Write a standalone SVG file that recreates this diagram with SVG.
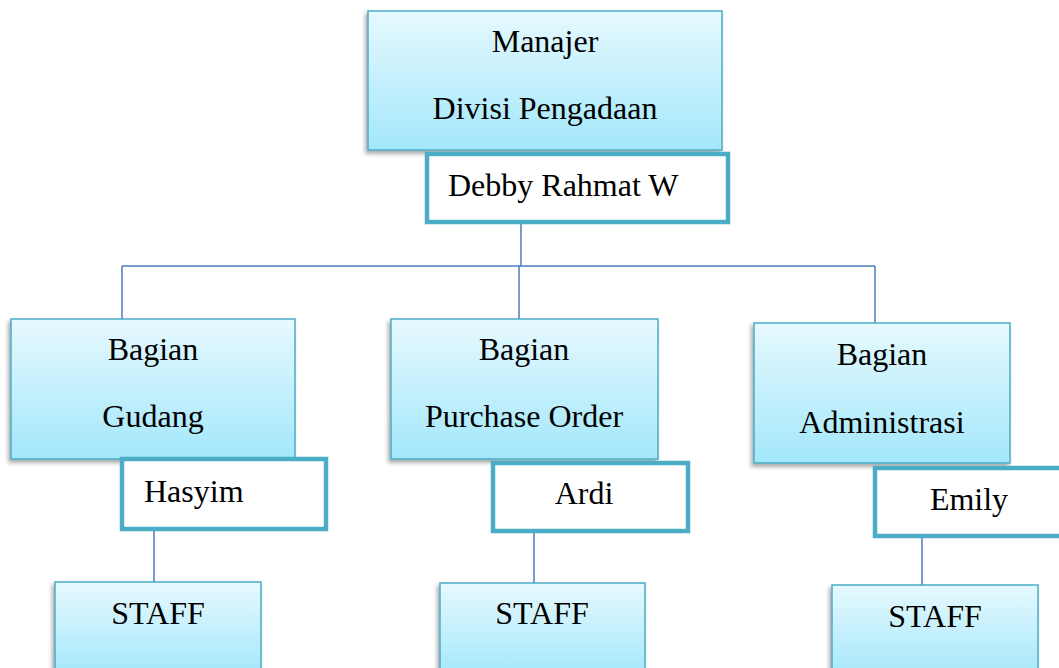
<svg xmlns="http://www.w3.org/2000/svg" width="1059" height="668" viewBox="0 0 1059 668">
<defs>
<linearGradient id="g" x1="0" y1="0" x2="0" y2="1">
<stop offset="0" stop-color="#E6F9FE"/>
<stop offset="1" stop-color="#A3E7FB"/>
</linearGradient>
<filter id="sh" x="-10%" y="-10%" width="120%" height="130%">
<feGaussianBlur in="SourceAlpha" stdDeviation="2"/>
<feOffset dx="-2" dy="3" result="b"/>
<feComponentTransfer><feFuncA type="linear" slope="0.35"/></feComponentTransfer>
<feMerge><feMergeNode/><feMergeNode in="SourceGraphic"/></feMerge>
</filter>
</defs>
<style>
.box{fill:url(#g);stroke:#4BACC6;stroke-width:1.5;filter:url(#sh)}
.name{fill:#fff;stroke:#4BACC6;stroke-width:4.5}
.t{font-family:"Liberation Serif","Times New Roman",serif;font-size:32px;fill:#000}
.c{stroke:#4A7EBB;stroke-width:1.5;fill:none}
</style>
<rect width="1059" height="668" fill="#fff"/>
<g id="connectors">
<path class="c" d="M521 223V266M122 266H875M122 266V319M519 266V319M875 266V323"/>
<path class="c" d="M154 530V582M534 532V583M922 537V585"/>
</g>
<g id="manajer">
<rect class="box" x="368" y="11" width="354" height="139"/>
<text class="t" x="545" y="52" text-anchor="middle">Manajer</text>
<text class="t" x="545" y="119" text-anchor="middle">Divisi Pengadaan</text>
</g>
<g id="debby">
<rect class="name" x="427" y="154" width="301" height="68"/>
<text class="t" x="448" y="196">Debby Rahmat W</text>
</g>
<g id="gudang">
<rect class="box" x="11" y="319" width="284" height="140"/>
<text class="t" x="153" y="360" text-anchor="middle">Bagian</text>
<text class="t" x="153" y="427" text-anchor="middle">Gudang</text>
</g>
<g id="hasyim">
<rect class="name" x="122" y="459" width="204" height="70"/>
<text class="t" x="144" y="502">Hasyim</text>
</g>
<g id="staff1">
<rect class="box" x="55" y="582" width="206" height="95"/>
<text class="t" x="158" y="624" text-anchor="middle">STAFF</text>
</g>
<g id="purchase">
<rect class="box" x="391" y="319" width="267" height="140"/>
<text class="t" x="524" y="360" text-anchor="middle">Bagian</text>
<text class="t" x="524" y="427" text-anchor="middle">Purchase Order</text>
</g>
<g id="ardi">
<rect class="name" x="493" y="463" width="195" height="68"/>
<text class="t" x="584" y="504" text-anchor="middle">Ardi</text>
</g>
<g id="staff2">
<rect class="box" x="440" y="583" width="205" height="95"/>
<text class="t" x="542" y="624" text-anchor="middle">STAFF</text>
</g>
<g id="admin">
<rect class="box" x="754" y="323" width="256" height="140"/>
<text class="t" x="882" y="365" text-anchor="middle">Bagian</text>
<text class="t" x="882" y="433" text-anchor="middle">Administrasi</text>
</g>
<g id="emily">
<rect class="name" x="875" y="468" width="200" height="68"/>
<text class="t" x="969" y="510" text-anchor="middle">Emily</text>
</g>
<g id="staff3">
<rect class="box" x="832" y="585" width="206" height="95"/>
<text class="t" x="935" y="627" text-anchor="middle">STAFF</text>
</g>
</svg>
